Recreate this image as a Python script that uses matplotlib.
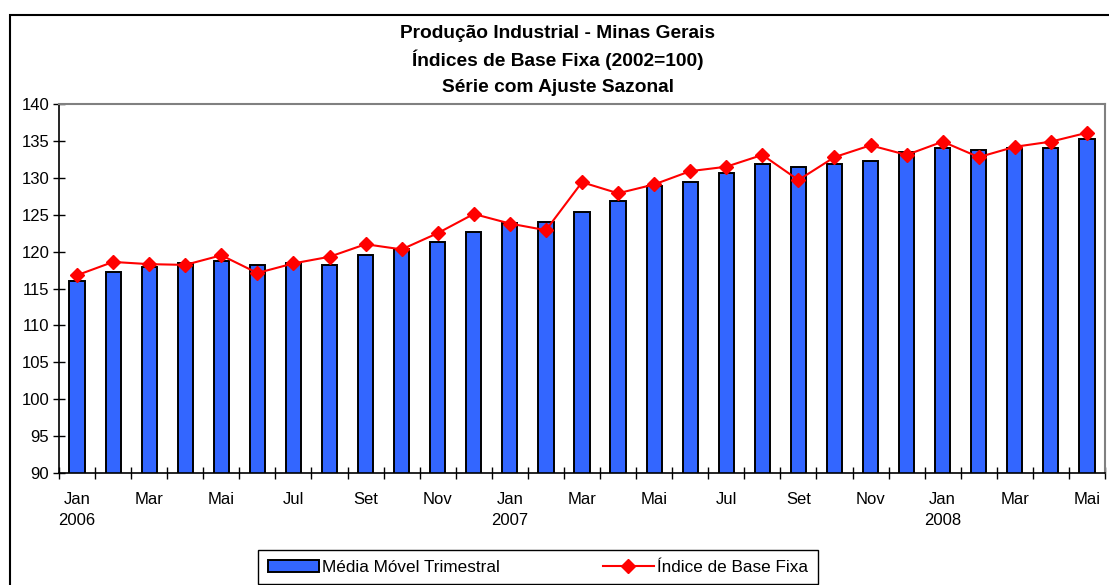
"""Produção Industrial - Minas Gerais: média móvel trimestral e índice de base fixa."""

import matplotlib
matplotlib.use("Agg")
import matplotlib.pyplot as plt
from matplotlib.lines import Line2D
from matplotlib.patches import Patch, Rectangle
import numpy as np

plt.rcParams["font.family"] = ["Liberation Sans", "DejaVu Sans"]

meses = ["Jan", "Fev", "Mar", "Abr", "Mai", "Jun", "Jul", "Ago", "Set", "Out", "Nov", "Dez"] * 2 + \
        ["Jan", "Fev", "Mar", "Abr", "Mai"]
anos = {0: "2006", 12: "2007", 24: "2008"}

media_movel = [116.0, 117.2, 117.9, 118.4, 118.7, 118.2, 118.4, 118.2, 119.6, 120.3,
               121.3, 122.7, 123.9, 124.0, 125.4, 126.8, 128.9, 129.4, 130.6, 131.9,
               131.5, 131.9, 132.3, 133.5, 134.1, 133.7, 134.1, 134.1, 135.2]
indice_base = [116.8, 118.6, 118.3, 118.2, 119.5, 117.1, 118.4, 119.3, 121.0, 120.3,
               122.5, 125.1, 123.8, 122.9, 129.4, 127.9, 129.1, 130.9, 131.5, 133.1,
               129.7, 132.8, 134.4, 133.1, 134.9, 132.8, 134.2, 134.9, 136.1]

cor_barra = "#3366FF"
cor_linha = "#FF0000"

fig = plt.figure(figsize=(11.09, 5.85), dpi=100)
ax = fig.add_axes([59 / 1109, 1 - 473 / 585, (1105 - 59) / 1109, (473 - 104) / 585])

x = np.arange(len(media_movel))
ax.bar(x, media_movel, width=0.42, color=cor_barra, edgecolor="black", linewidth=1.4, zorder=2)
ax.plot(x, indice_base, color=cor_linha, linewidth=1.5, marker="D", markersize=7,
        markeredgecolor=cor_linha, zorder=3)

ax.set_xlim(-0.5, len(x) - 0.5)
ax.set_ylim(90, 140)
ax.set_yticks(np.arange(90, 141, 5))

rotulos = []
for i, m in enumerate(meses):
    if i % 2:
        rotulos.append("")
    else:
        rotulos.append(m + ("\n" + anos[i] if i in anos else ""))
ax.set_xticks(x)
ax.set_xticklabels(rotulos, va="top", linespacing=1.45)
ax.set_xticks(np.arange(-0.5, len(x), 1), minor=True)
ax.tick_params(axis="x", which="major", length=0, pad=14, labelsize=12)
ax.tick_params(axis="x", which="minor", direction="inout", length=8, width=1)
ax.tick_params(axis="y", direction="inout", length=8, width=1, labelsize=12, pad=3)

for lado in ("top", "right"):
    ax.spines[lado].set_color("#808080")
    ax.spines[lado].set_linewidth(1.5)
for lado in ("left", "bottom"):
    ax.spines[lado].set_color("black")
    ax.spines[lado].set_linewidth(1.2)

fig.text(0.503, 1 - 33 / 585, "Produção Industrial - Minas Gerais", ha="center", va="center",
         fontsize=13.8, fontweight="bold")
fig.text(0.503, 1 - 60 / 585, "Índices de Base Fixa (2002=100)", ha="center", va="center",
         fontsize=13.8, fontweight="bold")
fig.text(0.503, 1 - 87 / 585, "Série com Ajuste Sazonal", ha="center", va="center",
         fontsize=13.8, fontweight="bold")

# moldura externa do gráfico
fig.patches.append(Rectangle((10 / 1109, -0.05), 1.1, 1.05 - 15 / 585, transform=fig.transFigure,
                             fill=False, edgecolor="black", linewidth=1.5))

handles = [Patch(facecolor=cor_barra, edgecolor="black", linewidth=1.4),
           Line2D([], [], color=cor_linha, linewidth=1.5, marker="D", markersize=7)]
leg = fig.legend(handles, ["Média Móvel Trimestral", "Índice de Base Fixa"], ncol=2,
                 loc="center", bbox_to_anchor=(538 / 1109, 1 - 567 / 585), fontsize=12.3,
                 fancybox=False, frameon=True, edgecolor="black", framealpha=1,
                 handlelength=3.0, handletextpad=0.2, columnspacing=6.0, borderpad=0.55)
leg.get_frame().set_linewidth(1.0)

fig.savefig("out.png", dpi=100)
